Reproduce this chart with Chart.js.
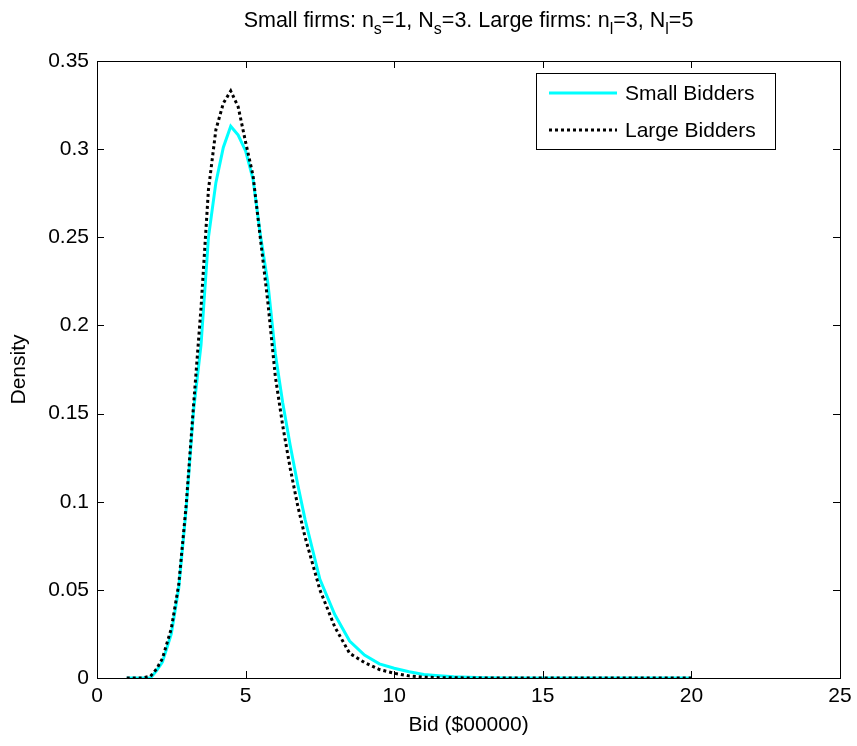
<!DOCTYPE html>
<html lang="en">
<head>
  <meta charset="UTF-8" />
  <title>Bid densities</title>
  <script src="https://cdn.jsdelivr.net/npm/chart.js"></script>
  <style>
    body {
      margin: 0;
      background: white;
    }
    #wrap {
      width: 857px;
      height: 746px;
    }
  </style>
</head>
<body>
  <div id="wrap">
    <canvas id="bidChart" width="857" height="746"></canvas>
  </div>

  <script>
    // bid grid ($00000) and densities
    const bids = [1, 1.5, 1.8, 2.0, 2.2, 2.5, 2.75, 3.0, 3.25, 3.5, 3.75, 4.0, 4.25, 4.5, 4.75,
      5.0, 5.25, 5.5, 5.75, 6.0, 6.25, 6.5, 6.75, 7.0, 7.5, 8.0, 8.5, 9.0, 9.5, 10, 10.5,
      11, 11.5, 12, 13, 14, 15, 16, 17, 18, 19, 20];
    const smallDensity = [0, 0, 0, 0.004, 0.009, 0.025, 0.051, 0.096, 0.152, 0.189, 0.250, 0.281,
      0.301, 0.313, 0.308, 0.299, 0.283, 0.251, 0.224, 0.184, 0.156, 0.132, 0.110, 0.090, 0.056,
      0.036, 0.021, 0.013, 0.008, 0.0055, 0.0035, 0.002, 0.0013, 0.0007, 0.0002, 0, 0, 0, 0, 0, 0, 0];
    const largeDensity = [0, 0, 0.001, 0.005, 0.011, 0.028, 0.053, 0.098, 0.155, 0.210, 0.277, 0.311,
      0.326, 0.333, 0.324, 0.304, 0.285, 0.249, 0.213, 0.171, 0.143, 0.119, 0.098, 0.080, 0.050,
      0.029, 0.014, 0.0088, 0.0048, 0.0027, 0.0012, 0.0005, 0.0002, 0.0001, 0, 0, 0, 0, 0, 0, 0, 0];
    const xTicks = [0, 5, 10, 15, 20, 25];
    const yTicks = [0, 0.05, 0.1, 0.15, 0.2, 0.25, 0.3, 0.35];
    const titleParts = [
      ["Small firms: n", false], ["s", true], ["=1, N", false], ["s", true],
      ["=3. Large firms: n", false], ["l", true], ["=3, N", false], ["l", true], ["=5", false]
    ];

    const FONT = "'Liberation Sans', Arial, sans-serif";
    const FS = 21;

    // MATLAB-like frame: box, inward ticks, title with subscripts, legend in the corner
    const matlabFrame = {
      id: "matlabFrame",
      afterDraw(chart) {
        const c = chart.ctx;
        const a = chart.chartArea;
        const xs = chart.scales.x, ys = chart.scales.y;
        c.save();
        c.strokeStyle = "#000";
        c.lineWidth = 1;
        c.strokeRect(a.left + 0.5, a.top + 0.5, a.right - a.left, a.bottom - a.top);
        c.beginPath();
        xTicks.forEach(v => {
          const px = Math.round(xs.getPixelForValue(v)) + 0.5;
          c.moveTo(px, a.bottom); c.lineTo(px, a.bottom - 7);
          c.moveTo(px, a.top); c.lineTo(px, a.top + 7);
        });
        yTicks.forEach(v => {
          const py = Math.round(ys.getPixelForValue(v)) + 0.5;
          c.moveTo(a.left, py); c.lineTo(a.left + 7, py);
          c.moveTo(a.right, py); c.lineTo(a.right - 7, py);
        });
        c.stroke();

        // title
        c.fillStyle = "#000";
        c.textBaseline = "alphabetic";
        c.textAlign = "left";
        const big = "21.5px " + FONT, small = "16px " + FONT;
        let w = 0;
        titleParts.forEach(([t, sub]) => { c.font = sub ? small : big; w += c.measureText(t).width; });
        let tx = (a.left + a.right) / 2 - w / 2;
        titleParts.forEach(([t, sub]) => {
          c.font = sub ? small : big;
          c.fillText(t, tx, sub ? 34 : 27);
          tx += c.measureText(t).width;
        });

        // legend
        const lx = 536, ly = 73, lw = 239, lh = 76;
        c.fillStyle = "#fff";
        c.fillRect(lx, ly, lw, lh);
        c.strokeRect(lx + 0.5, ly + 0.5, lw, lh);
        chart.data.datasets.forEach((ds, i) => {
          const yy = ly + 20 + i * 37;
          c.beginPath();
          c.strokeStyle = ds.borderColor;
          c.lineWidth = ds.borderWidth;
          c.setLineDash(ds.borderDash || []);
          c.moveTo(549, yy); c.lineTo(617, yy);
          c.stroke();
          c.setLineDash([]);
          c.fillStyle = "#000";
          c.font = FS + "px " + FONT;
          c.textBaseline = "middle";
          c.fillText(ds.label, 625, yy + 1);
        });
        c.restore();
      }
    };

    const ctx = document.getElementById("bidChart").getContext("2d");
    new Chart(ctx, {
      type: "line",
      data: {
        datasets: [
          {
            label: "Small Bidders",
            data: bids.map((b, i) => ({ x: b, y: smallDensity[i] })),
            borderColor: "#00ffff",
            borderWidth: 3,
            order: 2
          },
          {
            label: "Large Bidders",
            data: bids.map((b, i) => ({ x: b, y: largeDensity[i] })),
            borderColor: "#000000",
            borderWidth: 3,
            borderDash: [3, 3],
            order: 1
          }
        ]
      },
      options: {
        responsive: false,
        animation: false,
        elements: { point: { radius: 0 }, line: { tension: 0 } },
        layout: { padding: { top: 61, right: 17, left: 0, bottom: 0 } },
        plugins: { legend: { display: false }, tooltip: { enabled: false } },
        scales: {
          x: {
            type: "linear",
            min: 0, max: 25,
            afterBuildTicks: s => { s.ticks = xTicks.map(v => ({ value: v })); },
            grid: { display: false },
            border: { display: false },
            ticks: { color: "#000", font: { family: FONT, size: FS }, padding: -2, maxRotation: 0 },
            title: { display: true, text: "Bid ($00000)", color: "#000", font: { family: FONT, size: FS }, padding: { top: 0, bottom: 8 } },
            afterFit: s => { s.height = 746 - 678; }
          },
          y: {
            min: 0, max: 0.35,
            afterBuildTicks: s => { s.ticks = yTicks.map(v => ({ value: v })); },
            grid: { display: false },
            border: { display: false },
            ticks: {
              color: "#000", font: { family: FONT, size: FS }, padding: 0,
              callback: v => String(+v.toFixed(2))
            },
            title: { display: true, text: "Density", color: "#000", font: { family: FONT, size: FS }, padding: { top: 7, bottom: 0 } },
            afterFit: s => { s.width = 97; }
          }
        }
      },
      plugins: [matlabFrame]
    });
  </script>
</body>
</html>
